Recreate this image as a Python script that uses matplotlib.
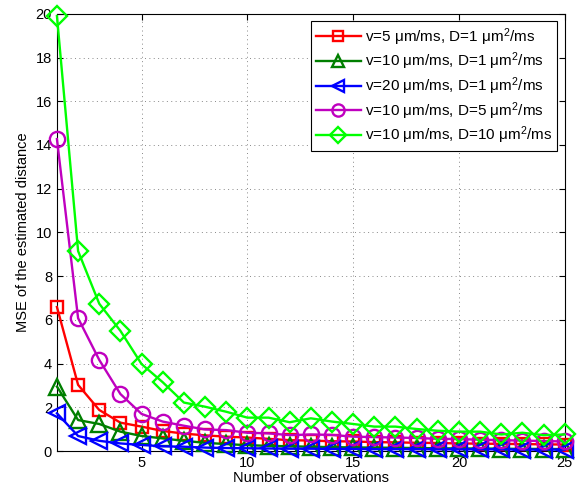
import numpy as np
import matplotlib.pyplot as plt

plt.rcParams["font.family"] = ["Liberation Sans", "DejaVu Sans"]
plt.rcParams["mathtext.fontset"] = "custom"
plt.rcParams["mathtext.rm"] = "Liberation Sans"
plt.rcParams["mathtext.it"] = "Liberation Sans:italic"

n_obs = np.arange(1, 26)

# values
mse_v5_d1 = [6.59, 3.03, 1.88, 1.30, 1.12, 0.92, 0.80, 0.72, 0.66, 0.62, 0.56, 0.50, 0.48,
             0.45, 0.44, 0.41, 0.40, 0.38, 0.37, 0.35, 0.34, 0.33, 0.32, 0.31, 0.30]
mse_v10_d1 = [2.95, 1.42, 1.24, 0.89, 0.69, 0.58, 0.47, 0.38, 0.32, 0.27, 0.24, 0.22, 0.20,
              0.18, 0.17, 0.16, 0.15, 0.14, 0.13, 0.12, 0.12, 0.11, 0.10, 0.10, 0.09]
mse_v20_d1 = [1.73, 0.69, 0.47, 0.35, 0.28, 0.22, 0.20, 0.16, 0.14, 0.13, 0.12, 0.11, 0.11,
              0.10, 0.10, 0.09, 0.09, 0.09, 0.08, 0.08, 0.08, 0.08, 0.07, 0.07, 0.07]
mse_v10_d5 = [14.27, 6.08, 4.17, 2.61, 1.70, 1.35, 1.16, 0.99, 0.96, 0.84, 0.81, 0.73, 0.76,
              0.74, 0.66, 0.64, 0.62, 0.60, 0.56, 0.55, 0.52, 0.50, 0.48, 0.46, 0.44]
mse_v10_d10 = [19.9, 9.15, 6.74, 5.50, 3.98, 3.15, 2.22, 2.03, 1.80, 1.53, 1.53, 1.32, 1.50,
               1.35, 1.24, 1.12, 1.12, 1.01, 0.93, 0.89, 0.89, 0.76, 0.84, 0.73, 0.76]

labels = [
    r"v=5 μm/ms, D=1 μm$^2$/ms",
    r"v=10 μm/ms, D=1 μm$^2$/ms",
    r"v=20 μm/ms, D=1 μm$^2$/ms",
    r"v=10 μm/ms, D=5 μm$^2$/ms",
    r"v=10 μm/ms, D=10 μm$^2$/ms",
]
series = [mse_v5_d1, mse_v10_d1, mse_v20_d1, mse_v10_d5, mse_v10_d10]
colors = ["#ff0000", "#007f00", "#0000ff", "#bf00bf", "#00ff00"]
markers = ["s", "^", "<", "o", "D"]
msizes = [9, 11, 11, 11, 10]

fig = plt.figure(figsize=(5.81, 4.93), dpi=100)
ax = fig.add_axes([0.098, 0.085, 0.874, 0.887])

for y, lab, c, m, ms in zip(series, labels, colors, markers, msizes):
    ax.plot(n_obs, y, color=c, marker=m, markersize=ms, markerfacecolor="none",
            markeredgecolor=c, markeredgewidth=1.7, linewidth=1.7, label=lab,
            clip_on=False, zorder=3)

ax.set_xlim(1, 25)
ax.set_ylim(0, 20)
ax.set_xticks([5, 10, 15, 20, 25])
ax.set_yticks(np.arange(0, 21, 2))
ax.grid(True, linestyle=(0, (1, 3.5)), color="#888888", linewidth=0.7)
ax.tick_params(direction="in", top=True, right=True, labelsize=10.5, length=4)
for sp in ax.spines.values():
    sp.set_linewidth(0.8)

ax.set_xlabel("Number of observations", fontsize=10.5, labelpad=1)
ax.set_ylabel("MSE of the estimated distance", fontsize=10.5, labelpad=4)

leg = ax.legend(loc="upper right", fontsize=11, handlelength=3.0, handletextpad=0.25,
                labelspacing=0.2, borderpad=0.3, fancybox=False, framealpha=1,
                edgecolor="black", borderaxespad=0.5, markerscale=0.8)
leg.get_frame().set_linewidth(0.8)
leg.set_zorder(5)

fig.savefig("out.png", dpi=100)
